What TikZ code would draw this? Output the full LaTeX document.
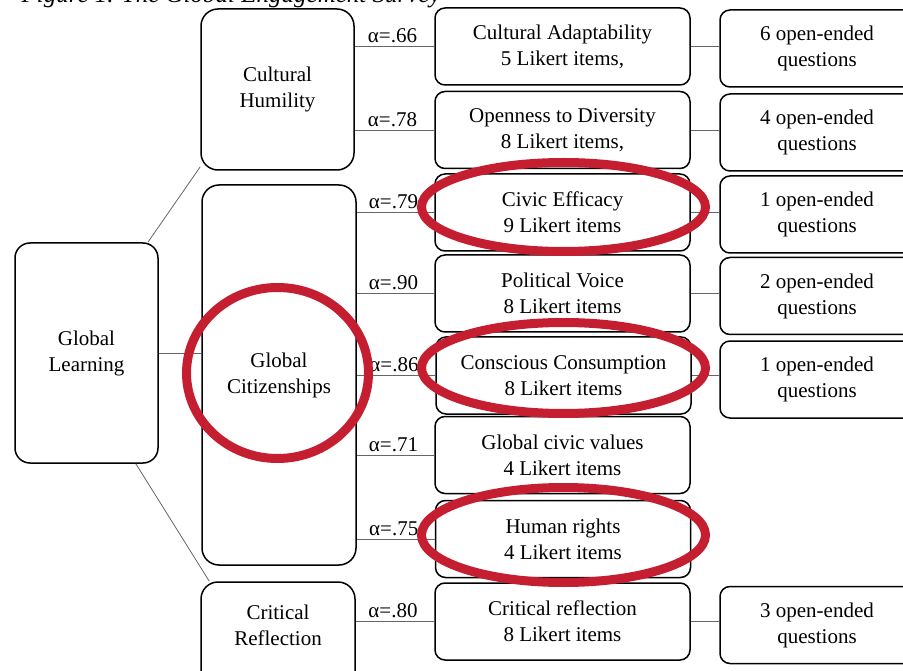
\documentclass[tikz,border=0pt]{standalone}
\usepackage{fontspec}
\setmainfont{Liberation Serif}
\definecolor{ringred}{RGB}{196,30,48}
\tikzset{
  bigbox/.style={draw, line width=1.5pt, rounded corners=17pt, align=center, inner sep=0pt},
  itembox/.style={draw, line width=1.5pt, rounded corners=10pt, align=center, inner sep=0pt,
    minimum width=255pt, minimum height=77pt},
  qbox/.style={itembox, minimum width=194pt},
  link/.style={draw, line width=0.8pt, gray!80!black},
  alab/.style={above, inner sep=2pt, yshift=1pt, text=black, xshift=-2pt},
  redring/.style={draw=ringred, line width=9pt}
}
\begin{document}
\begin{tikzpicture}[x=1pt, y=-1pt, font=\fontsize{21}{26}\selectfont]
			\useasboundingbox (0,0) rectangle (903,671);
			\node[anchor=base west, font=\fontsize{25}{29}\selectfont\itshape] (cap) at (18,3) {Figure 1. The Global Engagement Survey};
			
			\node[bigbox, minimum width=143pt, minimum height=220pt, rounded corners=15pt] (gl) at (86.5,353) {Global\\Learning};
			\node[bigbox, minimum width=153pt, minimum height=161pt] (ch) at (277.5,89.5) {Cultural\\Humility};
			\node[bigbox, minimum width=154pt, minimum height=380pt] (gc) at (279,375) {Global\\Citizenships};
			\node[bigbox, minimum width=154pt, minimum height=118pt] (cr) at (278,641) {\raisebox{14pt}[\height][\depth]{\begin{tabular}{@{}c@{}}Critical\\Reflection\end{tabular}}};
			
			\node[itembox] (ca) at (562.5,46.5) {Cultural Adaptability\\5 Likert items,};
			\node[itembox] (od) at (562.5,130) {Openness to Diversity\\8 Likert items,};
			\node[itembox] (ce) at (562.5,212.5) {Civic Efficacy\\9 Likert items};
			\node[itembox] (pv) at (562.5,293.5) {Political Voice\\8 Likert items};
			\node[itembox] (cc) at (563.5,375.5) {Conscious Consumption\\8 Likert items};
			\node[itembox] (gv) at (562.5,455) {Global civic values\\4 Likert items};
			\node[itembox] (hr) at (563,539) {Human rights\\4 Likert items};
			\node[itembox] (crl) at (562.5,621.5) {Critical reflection\\8 Likert items};
			
			\node[qbox] (q6) at (817,48.5) {6 open-ended\\questions};
			\node[qbox] (q4) at (817,132.5) {4 open-ended\\questions};
			\node[qbox] (q1a) at (817,214.5) {1 open-ended\\questions};
			\node[qbox] (q2) at (817,296) {2 open-ended\\questions};
			\node[qbox] (q1b) at (817,379.5) {1 open-ended\\questions};
			\node[qbox] (q3) at (817,625) {3 open-ended\\questions};
			
			% left column
			\draw[link] (gl.61) -- (ch.225);
			\draw[link] (gl.east) -- (gl.east -| gc.west);
			\draw[link] (gl.294) -- (cr.139);
			
			% scales with alpha
			\draw[link] (ca.west -| ch.east) -- node[alab] (a1) {α=.66} (ca.west);
			\draw[link] (od.west -| ch.east) -- node[alab] (a2) {α=.78} (od.west);
			\draw[link] (ce.west -| gc.east) -- node[alab] (a3) {α=.79} (ce.west);
			\draw[link] (pv.west -| gc.east) -- node[alab] (a4) {α=.90} (pv.west);
			\draw[link] (cc.west -| gc.east) -- node[alab] (a5) {α=.86} (cc.west);
			\draw[link] (gv.west -| gc.east) -- node[alab] (a6) {α=.71} (gv.west);
			\draw[link] (hr.west -| gc.east) -- node[alab] (a7) {α=.75} (hr.west);
			\draw[link] (crl.west -| cr.east) -- node[alab] (a8) {α=.80} (crl.west);
			
			% open-ended questions
			\draw[link] (ca.east) -- (ca.east -| q6.west);
			\draw[link] (od.east) -- (od.east -| q4.west);
			\draw[link] (ce.east) -- (ce.east -| q1a.west);
			\draw[link] (pv.east) -- (pv.east -| q2.west);
			\draw[link] (cc.east) -- (cc.east -| q1b.west);
			\draw[link] (crl.east) -- (crl.east -| q3.west);
			
			% red marks
			\draw[redring] (277.5,373) ellipse (91 and 85.5);
			\draw[redring] (563.5,207) ellipse (142 and 44.5);
			\draw[redring] (563.5,368) ellipse (142 and 45.5);
			\draw[redring] (563.5,535) ellipse (142 and 47.5);
\end{tikzpicture}
\end{document}
